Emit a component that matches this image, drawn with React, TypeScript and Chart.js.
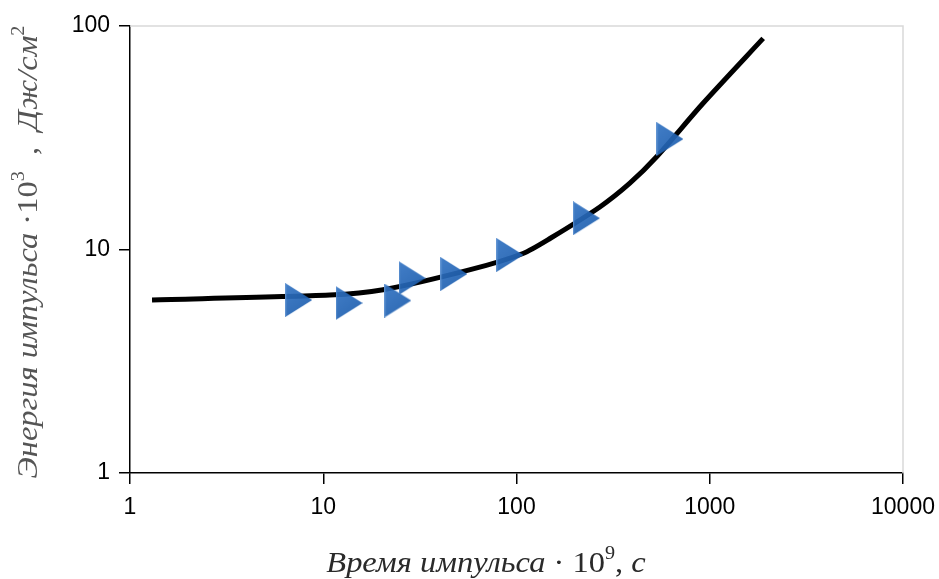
import React, { useEffect, useRef } from "react";
import { Chart, registerables } from "chart.js";

Chart.register(...registerables);

// Fitted curve (pulse time ·10^9 s → pulse energy ·10^3 J/cm²)
const curveTime = [1.3, 10.8, 20.4, 57, 108, 149, 270, 386, 531, 921, 1890];
const curveEnergy = [5.95, 6.25, 6.6, 8.1, 9.6, 11.2, 15.5, 19.8, 26, 45, 88];

// Measured points
const pointTime = [7.46, 13.6, 24.3, 28.8, 47.4, 92.4, 230, 622];
const pointEnergy = [5.94, 5.76, 5.91, 7.45, 7.77, 9.45, 13.8, 31.2];

const xTicks = [1, 10, 100, 1000, 10000];
const yTicks = [1, 10, 100];

const xTitleParts = [
  { text: "Время импульса", italic: true, sup: false },
  { text: " · 10", italic: false, sup: false },
  { text: "9", italic: false, sup: true },
  { text: ", ", italic: false, sup: false },
  { text: "с", italic: true, sup: false },
];
const yTitleParts = [
  { text: "Энергия импульса", italic: true, sup: false },
  { text: " ·10", italic: false, sup: false },
  { text: "3", italic: false, sup: true },
  { text: "  ,  ", italic: false, sup: false },
  { text: "Дж/см", italic: true, sup: false },
  { text: "2", italic: false, sup: true },
];

function makeMarker(): HTMLCanvasElement {
  const w = 27, h = 34;
  const c = document.createElement("canvas");
  c.width = w;
  c.height = h;
  const g = c.getContext("2d")!;
  const grad = g.createLinearGradient(0, 0, w, h);
  grad.addColorStop(0, "rgba(50,115,195,0.92)");
  grad.addColorStop(1, "rgba(25,90,170,0.92)");
  g.fillStyle = grad;
  g.beginPath();
  g.moveTo(0, 0);
  g.lineTo(w, h / 2);
  g.lineTo(0, h);
  g.closePath();
  g.fill();
  g.fillStyle = "rgba(120,165,220,0.6)";
  g.fillRect(0, 1, 1.2, h - 2);
  return c;
}

function drawParts(ctx: CanvasRenderingContext2D, parts: any[], size: number) {
  const font = (p: any) =>
    `${p.italic ? "italic " : ""}${p.sup ? Math.round(size * 0.62) : size}px "Liberation Serif", "DejaVu Serif", serif`;
  let total = 0;
  for (const p of parts) {
    ctx.font = font(p);
    total += ctx.measureText(p.text).width;
  }
  let x = -total / 2;
  for (const p of parts) {
    ctx.font = font(p);
    ctx.fillText(p.text, x, p.sup ? -size * 0.45 : 0);
    x += ctx.measureText(p.text).width;
  }
}

const decorPlugin = {
  id: "decor",
  afterDraw(chart: any) {
    const { ctx, chartArea } = chart;
    ctx.save();
    ctx.strokeStyle = "#d9d9d9";
    ctx.lineWidth = 1.5;
    ctx.beginPath();
    ctx.moveTo(chartArea.left, chartArea.top);
    ctx.lineTo(chartArea.right, chartArea.top);
    ctx.lineTo(chartArea.right, chartArea.bottom);
    ctx.stroke();
    ctx.restore();

    ctx.save();
    ctx.textBaseline = "alphabetic";
    ctx.fillStyle = "#2a2a2a";
    ctx.translate(486, 572);
    ctx.save();
    ctx.scale(1.12, 1);
    drawParts(ctx, xTitleParts, 29);
    ctx.restore();
    ctx.restore();

    ctx.save();
    ctx.fillStyle = "#555555";
    ctx.translate(37, 252);
    ctx.rotate(-Math.PI / 2);
    ctx.scale(1.12, 1);
    drawParts(ctx, yTitleParts, 29);
    ctx.restore();
  },
};

export default function App() {
  const ref = useRef<HTMLCanvasElement>(null);
  useEffect(() => {
    const marker = makeMarker();
    const chart = new Chart(ref.current!, {
      type: "scatter",
      data: {
        datasets: [
          {
            data: pointTime.map((x, i) => ({ x, y: pointEnergy[i] })),
            pointStyle: marker as any,
            pointRadius: 14,
            showLine: false,
            order: 1,
          },
          {
            data: curveTime.map((x, i) => ({ x, y: curveEnergy[i] })),
            showLine: true,
            borderColor: "#000000",
            borderWidth: 5,
            pointRadius: 0,
            tension: 0.25,
            order: 2,
          },
        ],
      },
      options: {
        animation: false,
        responsive: false,
        layout: { padding: { left: 0, top: 26, right: 36, bottom: 0 } },
        plugins: { legend: { display: false }, tooltip: { enabled: false } },
        scales: {
          x: {
            type: "logarithmic",
            min: 1,
            max: 10000,
            afterBuildTicks: (s: any) => {
              s.ticks = xTicks.map((v) => ({ value: v }));
            },
            afterFit: (s: any) => {
              s.height = 106;
              s.paddingRight = 0;
              s.paddingLeft = 0;
            },
            grid: {
              drawOnChartArea: false,
              color: "#000",
              tickLength: 11,
              lineWidth: 1.5,
            },
            border: { color: "#000", width: 1.5 },
            ticks: {
              color: "#000",
              padding: 10,
              maxRotation: 0,
              font: { family: "'Liberation Sans', Arial, sans-serif", size: 23 },
              callback: (v: any) => String(v),
            },
          },
          y: {
            type: "logarithmic",
            min: 1,
            max: 100,
            afterBuildTicks: (s: any) => {
              s.ticks = yTicks.map((v) => ({ value: v }));
            },
            afterFit: (s: any) => {
              s.width = 130;
              s.paddingTop = 0;
              s.paddingBottom = 0;
            },
            grid: {
              drawOnChartArea: false,
              color: "#000",
              tickLength: 11,
              lineWidth: 1.5,
            },
            border: { color: "#000", width: 1.5 },
            ticks: {
              color: "#000",
              padding: 9,
              font: { family: "'Liberation Sans', Arial, sans-serif", size: 23 },
              callback: (v: any) => String(v),
            },
          },
        },
      },
      plugins: [decorPlugin],
    });
    return () => chart.destroy();
  }, []);
  return (
    <div style={{ position: "fixed", left: 0, top: 0, width: 939, height: 579, background: "#fff" }}>
      <canvas ref={ref} width={939} height={579} style={{ width: 939, height: 579 }} />
    </div>
  );
}
